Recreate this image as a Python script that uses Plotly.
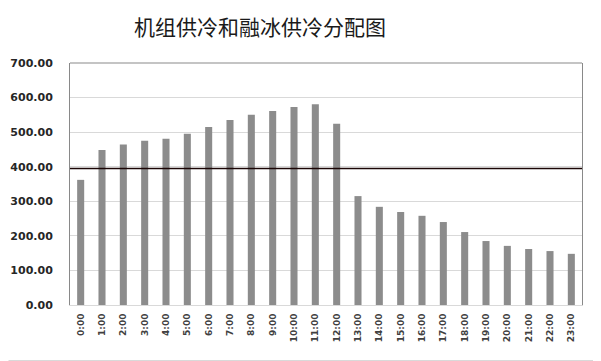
import plotly.graph_objects as go

hours = [f"{h}:00" for h in range(24)]
cooling = [362, 448, 464, 475, 481, 495, 515, 535, 550, 561, 573, 581, 524,
           315, 284, 269, 258, 240, 211, 185, 171, 162, 156, 148]
threshold = 395
y_ticks = [0, 100, 200, 300, 400, 500, 600, 700]
y_labels = [f"{v:.2f}" for v in y_ticks]
title_text = "机组供冷和融冰供冷分配图"

# page body has an 8px margin, so the figure is laid out 8px smaller
W, H = 593, 353
L, R, T, B = 62, 19, 55, 56
pw, ph = W - L - R, H - T - B

fig = go.Figure()
fig.add_trace(go.Bar(x=hours, y=cooling, marker=dict(color="#8c8c8c", line=dict(width=0)),
                     showlegend=False))

fig.update_layout(
    width=W, height=H,
    margin=dict(l=L, r=R, t=T, b=B, autoexpand=False),
    paper_bgcolor="white", plot_bgcolor="white",
    bargap=0.67,
    title=dict(text=title_text, x=252 / W, xanchor="center", y=1 - 20 / H, yanchor="middle",
               automargin=False,
               font=dict(family="Noto Sans CJK SC", size=21, color="#1a1a1a")),
    xaxis=dict(type="category", tickangle=-90, showgrid=False, showline=True,
               linecolor="#d9d9d9", linewidth=1, ticks="", ticklabelstandoff=4,
               automargin=False,
               tickfont=dict(family="DejaVu Sans", size=9, color="#404040", weight="bold")),
    yaxis=dict(range=[0, 700], tickvals=y_ticks, ticktext=y_labels, showgrid=True,
               gridcolor="#d9d9d9", gridwidth=1, showline=True, mirror=True,
               linecolor="#898989", linewidth=1, ticks="", zeroline=False,
               ticklabelstandoff=14, automargin=False,
               tickfont=dict(family="DejaVu Sans", size=11, color="#262626", weight="bold")),
    shapes=[
        dict(type="line", xref="paper", yref="paper", x0=0, x1=1, y0=1, y1=1,
             line=dict(color="#898989", width=1)),
        dict(type="line", xref="paper", yref="y", x0=0, x1=1, y0=threshold, y1=threshold,
             line=dict(color="#1a0505", width=1.6)),
        dict(type="line", xref="paper", yref="paper",
             x0=(W - 0.5 - L) / pw, x1=(W - 0.5 - L) / pw,
             y0=-(B - 0.5) / ph, y1=1 + (T - 0.5) / ph,
             line=dict(color="#d9d9d9", width=1)),
        dict(type="line", xref="paper", yref="paper",
             x0=-(L - 0.5) / pw, x1=(W - 0.5 - L) / pw,
             y0=-(B - 0.5) / ph, y1=-(B - 0.5) / ph,
             line=dict(color="#d9d9d9", width=1)),
    ],
)

fig.write_html("out.html")
